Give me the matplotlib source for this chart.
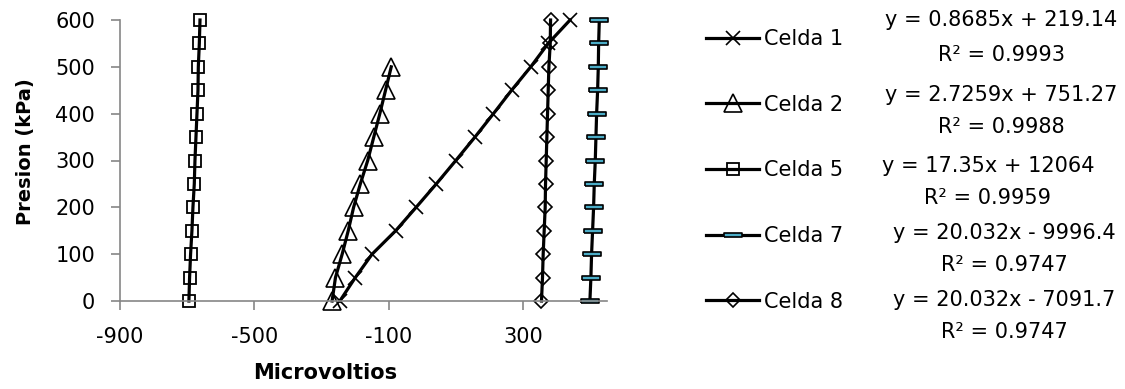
import numpy as np
import matplotlib
matplotlib.use('Agg')
import matplotlib.pyplot as plt

plt.rcParams['font.family'] = ['DejaVu Sans']
plt.rcParams['axes.unicode_minus'] = False

# presion (kPa)
presion = [0, 50, 100, 150, 200, 250, 300, 350, 400, 450, 500, 550, 600]
presion2 = [0, 50, 100, 150, 200, 250, 300, 350, 400, 450, 500]

celda1 = [-246, -200, -150, -80, -19, 41, 99, 156, 211, 265, 322, 374, 439]
celda2 = [-269, -259, -239, -221, -205, -185, -163, -145, -127, -110, -93]
celda5 = [-695, -693, -690, -686, -683, -679, -677, -674, -671, -668, -667, -664, -662]
celda7 = [498, 501, 503, 506, 509, 511, 514, 516, 518, 521, 523, 524, 526]
celda8 = [354, 357, 359, 362, 365, 366, 368, 370, 372, 374, 376, 380, 381]

etiquetas = ['Celda 1', 'Celda 2', 'Celda 5', 'Celda 7', 'Celda 8']
ecuaciones = ['y = 0.8685x + 219.14', 'y = 2.7259x + 751.27', 'y = 17.35x + 12064',
              'y = 20.032x - 9996.4', 'y = 20.032x - 7091.7']
r2 = ['R² = 0.9993', 'R² = 0.9988', 'R² = 0.9959', 'R² = 0.9747', 'R² = 0.9747']

W, H = 1125, 389
fig = plt.figure(figsize=(W / 100, H / 100), dpi=100)
ax = fig.add_axes([120 / W, 1 - 301 / H, (606.7 - 120) / W, (301 - 20) / H])

guion = [(-1, -0.2), (1, -0.2), (1, 0.2), (-1, 0.2), (-1, -0.2)]
lw = 2.3
ax.plot(celda1, presion, color='black', lw=lw, marker='x', ms=9.5, mew=1.2, clip_on=False, label=etiquetas[0])
ax.plot(celda2, presion2, color='black', lw=lw, marker='^', ms=13, mew=1.2, mfc='none', clip_on=False, label=etiquetas[1])
ax.plot(celda5, presion, color='black', lw=lw, marker='s', ms=9, mew=1.3, mfc='none', clip_on=False, label=etiquetas[2])
ax.plot(celda7, presion, color='black', lw=lw, marker=guion, ms=13, mew=1.2, mfc='#4bacc6', clip_on=False, label=etiquetas[3])
ax.plot(celda8, presion, color='black', lw=lw, marker='D', ms=7, mew=1.2, mfc='none', clip_on=False, label=etiquetas[4])

ax.set_xlim(-900, 548)
ax.set_ylim(0, 600)
ax.set_xticks([-900, -500, -100, 300])
ax.set_yticks(np.arange(0, 601, 100))
for s in ['top', 'right']:
    ax.spines[s].set_visible(False)
for s in ['left', 'bottom']:
    ax.spines[s].set_color('#868686')
    ax.spines[s].set_linewidth(1.2)
ax.tick_params(length=6.5, width=1.2, color='#868686', labelsize=15)
ax.tick_params(axis='x', pad=12)
ax.tick_params(axis='y', pad=11.5)
ax.set_xlabel('Microvoltios', fontsize=15, fontweight='bold')
ax.set_ylabel('Presion (kPa)', fontsize=14, fontweight='bold')
ax.xaxis.set_label_coords(0.421, -0.22)
ax.yaxis.set_label_coords(-0.175, 0.53)

leg = fig.legend(loc='upper left', bbox_to_anchor=(706 / W, 1 - 29 / H), frameon=False,
                 fontsize=15, handlelength=2.55, handletextpad=0.25, labelspacing=2.19,
                 borderpad=0, borderaxespad=0)

eq_x = [1001, 1001, 988, 1004, 1004]
eq_y = [20, 95, 166, 233, 300]
r2_y = [55, 127, 198, 265, 332]
for i in range(5):
    fig.text(eq_x[i] / W, 1 - eq_y[i] / H, ecuaciones[i], ha='center', va='center', fontsize=15)
    fig.text(eq_x[i] / W, 1 - r2_y[i] / H, r2[i], ha='center', va='center', fontsize=15)

fig.savefig('out.png', dpi=100)
